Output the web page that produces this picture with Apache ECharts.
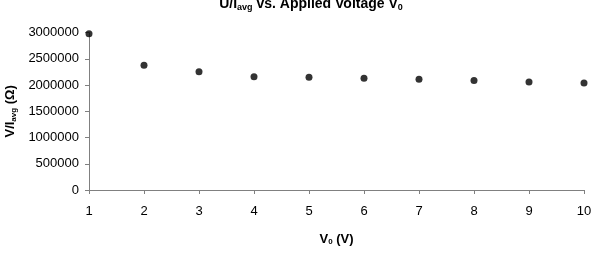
<!DOCTYPE html>
<html><head><meta charset="utf-8">
<script src="https://cdn.jsdelivr.net/npm/echarts@6/dist/echarts.min.js"></script>
<style>html,body{margin:0;padding:0;background:#fff}#c{width:597px;height:255px}</style>
</head><body><div id="c"></div>
<script>
var voltages = [1, 2, 3, 4, 5, 6, 7, 8, 9, 10];
var resistance = [2980000, 2380000, 2255000, 2160000, 2150000, 2130000, 2110000, 2090000, 2060000, 2040000];
var yTicks = [0, 500000, 1000000, 1500000, 2000000, 2500000, 3000000];

var chart = echarts.init(document.getElementById('c'), null, {renderer: 'canvas'});
var F = 'Liberation Sans, Arial, sans-serif';
chart.setOption({
  animation: false,
  title: {
    text: '{a|U/I}{s|avg}{a| vs. Applied Voltage V}{s|0}',
    left: 306, top: -9, textAlign: 'center',
    textStyle: {
      rich: {
        a: {fontFamily: F, fontWeight: 'bold', fontSize: 14, color: '#000'},
        s: {fontFamily: F, fontWeight: 'bold', fontSize: 9, color: '#000', padding: [7, 0, 0, 0]}
      }
    }
  },
  grid: {left: 89, right: 13, top: 32.7, bottom: 65, containLabel: false, outerBoundsMode: 'none'},
  xAxis: {
    type: 'value', min: 1, max: 10, interval: 1,
    name: '{a|V}{s|0}{a| (V)}', nameLocation: 'middle', nameGap: 42,
    nameTextStyle: {rich: {
      a: {fontFamily: F, fontWeight: 'bold', fontSize: 13, color: '#000'},
      s: {fontFamily: F, fontWeight: 'bold', fontSize: 8, color: '#000', padding: [6, 0, 0, 0]}
    }},
    axisLine: {lineStyle: {color: '#808080', width: 1}},
    axisTick: {show: true, length: 4, lineStyle: {color: '#808080'}},
    axisLabel: {fontFamily: F, fontSize: 13, color: '#000', margin: 15},
    splitLine: {show: false}
  },
  yAxis: {
    type: 'value', min: 0, max: 3000000, interval: 500000,
    name: '{a|V/I}{s|avg}{a| (Ω)}', nameLocation: 'middle', nameGap: 70, nameRotate: 90,
    nameTextStyle: {rich: {
      a: {fontFamily: F, fontWeight: 'bold', fontSize: 13, color: '#000'},
      s: {fontFamily: F, fontWeight: 'bold', fontSize: 8, color: '#000', padding: [6, 0, 0, 0]}
    }},
    axisLine: {show: true, lineStyle: {color: '#808080', width: 1}},
    axisTick: {show: true, length: 4, lineStyle: {color: '#808080'}},
    axisLabel: {fontFamily: F, fontSize: 13, color: '#000', margin: 10, formatter: function (v) { return String(v); }},
    splitLine: {show: false}
  },
  series: [{
    type: 'scatter',
    data: voltages.map(function (v, i) { return [v, resistance[i]]; }),
    symbol: 'circle', symbolSize: 7,
    itemStyle: {color: '#000'}
  }]
});
</script></body></html>
